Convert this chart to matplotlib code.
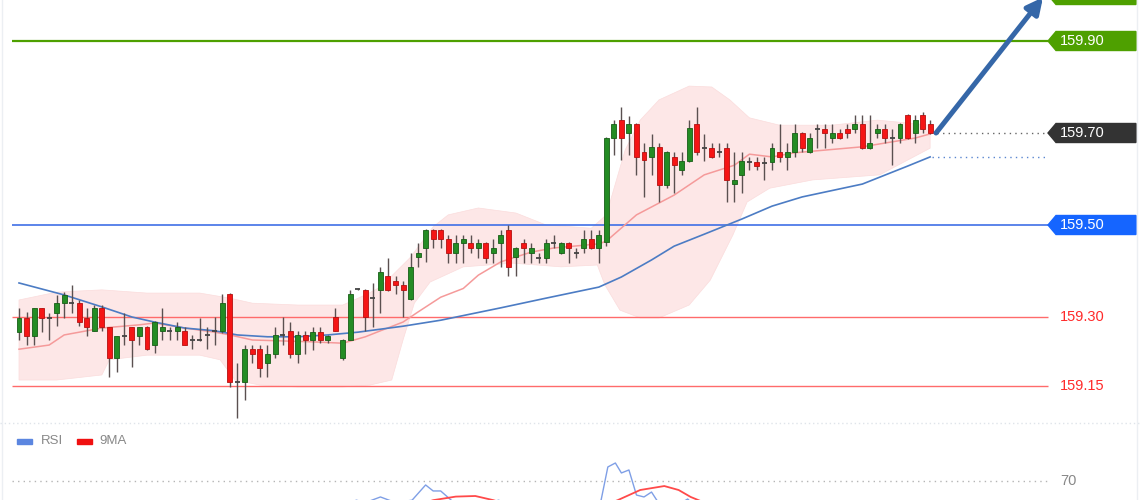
import numpy as np
import matplotlib
matplotlib.use('Agg')
import matplotlib.pyplot as plt
from matplotlib.patches import Polygon, Rectangle
from matplotlib.lines import Line2D

plt.rcParams['font.family'] = ['Liberation Sans', 'DejaVu Sans']

# candles (USDJPY-like price, one per bar)
opens = [
    159.267, 159.298, 159.259, 159.320, 159.298, 159.309, 159.330, 159.330, 159.330, 159.298,
    159.270, 159.320, 159.278, 159.211, 159.259, 159.278, 159.259, 159.278, 159.239, 159.270,
    159.270, 159.270, 159.270, 159.250, 159.250, 159.261, 159.270, 159.270, 159.350, 159.159,
    159.159, 159.230, 159.230, 159.200, 159.220, 159.261, 159.270, 159.220, 159.261, 159.250,
    159.267, 159.250, 159.300, 159.211, 159.250, 159.361, 159.359, 159.341, 159.359, 159.389,
    159.378, 159.370, 159.339, 159.430, 159.450, 159.489, 159.489, 159.470, 159.439, 159.461,
    159.461, 159.450, 159.461, 159.439, 159.461, 159.489, 159.430, 159.461, 159.439, 159.428,
    159.428, 159.461, 159.439, 159.461, 159.439, 159.450, 159.470, 159.450, 159.463, 159.689,
    159.728, 159.700, 159.720, 159.659, 159.648, 159.670, 159.587, 159.648, 159.620, 159.639,
    159.720, 159.667, 159.667, 159.659, 159.667, 159.589, 159.609, 159.637, 159.637, 159.635,
    159.637, 159.659, 159.648, 159.659, 159.700, 159.659, 159.709, 159.709, 159.689, 159.700,
    159.709, 159.709, 159.720, 159.667, 159.700, 159.709, 159.689, 159.689, 159.739, 159.700,
    159.739, 159.720]
highs = [
    159.320, 159.311, 159.320, 159.320, 159.309, 159.348, 159.354, 159.370, 159.337, 159.320,
    159.326, 159.326, 159.278, 159.259, 159.309, 159.278, 159.278, 159.280, 159.291, 159.320,
    159.278, 159.289, 159.278, 159.261, 159.298, 159.278, 159.300, 159.350, 159.352, 159.200,
    159.239, 159.239, 159.239, 159.239, 159.278, 159.300, 159.289, 159.270, 159.270, 159.278,
    159.278, 159.261, 159.320, 159.252, 159.359, 159.363, 159.361, 159.374, 159.409, 159.428,
    159.389, 159.378, 159.439, 159.461, 159.491, 159.491, 159.491, 159.478, 159.478, 159.478,
    159.478, 159.470, 159.463, 159.470, 159.489, 159.500, 159.452, 159.470, 159.461, 159.439,
    159.470, 159.478, 159.463, 159.463, 159.450, 159.489, 159.489, 159.489, 159.691, 159.728,
    159.757, 159.737, 159.722, 159.678, 159.698, 159.678, 159.661, 159.659, 159.659, 159.728,
    159.757, 159.698, 159.678, 159.678, 159.678, 159.659, 159.659, 159.648, 159.648, 159.648,
    159.678, 159.720, 159.678, 159.720, 159.702, 159.700, 159.720, 159.720, 159.720, 159.709,
    159.720, 159.739, 159.739, 159.739, 159.720, 159.720, 159.709, 159.722, 159.741, 159.739,
    159.746, 159.728]
lows = [
    159.250, 159.239, 159.239, 159.267, 159.250, 159.280, 159.298, 159.309, 159.280, 159.259,
    159.270, 159.270, 159.170, 159.180, 159.239, 159.191, 159.239, 159.228, 159.222, 159.250,
    159.250, 159.250, 159.239, 159.230, 159.248, 159.230, 159.239, 159.265, 159.148, 159.080,
    159.120, 159.200, 159.170, 159.170, 159.211, 159.239, 159.211, 159.200, 159.220, 159.228,
    159.243, 159.243, 159.270, 159.207, 159.250, 159.359, 159.270, 159.278, 159.309, 159.357,
    159.350, 159.300, 159.337, 159.409, 159.420, 159.450, 159.450, 159.417, 159.417, 159.417,
    159.439, 159.428, 159.417, 159.417, 159.409, 159.389, 159.389, 159.417, 159.417, 159.417,
    159.417, 159.450, 159.437, 159.417, 159.428, 159.439, 159.448, 159.417, 159.455, 159.652,
    159.641, 159.652, 159.609, 159.561, 159.609, 159.550, 159.580, 159.570, 159.609, 159.637,
    159.652, 159.639, 159.646, 159.648, 159.550, 159.550, 159.570, 159.620, 159.620, 159.598,
    159.620, 159.637, 159.620, 159.648, 159.659, 159.657, 159.667, 159.667, 159.678, 159.687,
    159.689, 159.700, 159.665, 159.665, 159.689, 159.678, 159.630, 159.678, 159.687, 159.678,
    159.700, 159.698]
closes = [
    159.298, 159.259, 159.320, 159.298, 159.298, 159.330, 159.348, 159.330, 159.289, 159.278,
    159.320, 159.278, 159.211, 159.259, 159.259, 159.250, 159.278, 159.230, 159.289, 159.278,
    159.270, 159.278, 159.239, 159.250, 159.250, 159.261, 159.270, 159.330, 159.159, 159.159,
    159.230, 159.220, 159.189, 159.220, 159.261, 159.261, 159.220, 159.261, 159.250, 159.267,
    159.250, 159.259, 159.270, 159.250, 159.350, 159.361, 159.300, 159.341, 159.398, 159.359,
    159.370, 159.359, 159.409, 159.439, 159.489, 159.470, 159.470, 159.439, 159.461, 159.470,
    159.450, 159.461, 159.428, 159.450, 159.478, 159.409, 159.450, 159.450, 159.450, 159.428,
    159.461, 159.461, 159.461, 159.450, 159.439, 159.470, 159.450, 159.478, 159.689, 159.720,
    159.689, 159.720, 159.648, 159.641, 159.670, 159.587, 159.659, 159.630, 159.639, 159.711,
    159.659, 159.667, 159.648, 159.659, 159.598, 159.598, 159.639, 159.637, 159.628, 159.635,
    159.667, 159.648, 159.659, 159.700, 159.667, 159.689, 159.709, 159.700, 159.700, 159.689,
    159.700, 159.720, 159.667, 159.678, 159.709, 159.689, 159.689, 159.720, 159.689, 159.728,
    159.709, 159.700]

# indicator lines, read at some bars
ma_fast_idx = [0, 4, 6, 8, 11, 16, 18, 22, 26, 28, 31, 35, 39, 43, 46, 48, 51, 53, 56, 59,
               61, 64, 68, 71, 77, 78, 82, 87, 91, 95, 97, 100, 103, 112, 119, 121]
ma_fast = [159.230, 159.239, 159.261, 159.267, 159.276, 159.283, 159.287, 159.276, 159.267, 159.261,
           159.250, 159.248, 159.246, 159.243, 159.257, 159.270, 159.289, 159.311, 159.343, 159.362,
           159.391, 159.420, 159.441, 159.450, 159.459, 159.465, 159.522, 159.565, 159.609, 159.630,
           159.654, 159.648, 159.657, 159.670, 159.689, 159.698]

ma_slow_idx = [0, 6, 11, 15, 18, 22, 26, 29, 33, 37, 41, 45, 51, 56, 64, 70, 77, 80, 84, 87,
               91, 96, 100, 104, 112, 118, 121]
ma_slow = [159.374, 159.348, 159.322, 159.300, 159.289, 159.276, 159.270, 159.261, 159.257, 159.257,
           159.261, 159.267, 159.280, 159.293, 159.320, 159.341, 159.365, 159.387, 159.424, 159.454,
           159.480, 159.513, 159.541, 159.561, 159.589, 159.628, 159.648]

band_up_idx = [0, 5, 11, 17, 24, 28, 31, 37, 43, 46, 48, 52, 55, 57, 61, 66, 70, 76, 78, 80.5,
               82.5, 85, 89, 92, 94.4, 97, 101, 108, 114, 121]
band_up = [159.337, 159.354, 159.359, 159.352, 159.352, 159.341, 159.330, 159.326, 159.326, 159.348,
           159.365, 159.430, 159.496, 159.522, 159.537, 159.526, 159.500, 159.493, 159.522, 159.663,
           159.728, 159.772, 159.802, 159.800, 159.772, 159.733, 159.717, 159.717, 159.728, 159.717]

band_lo_idx = [0, 5, 11, 12, 17, 24, 26.7, 28.7, 32, 37, 43, 46.6, 49.5, 51, 52.5, 54.6, 59, 65.6,
               72, 76.8, 77.8, 79.8, 82.5, 85, 89, 91.8, 94.8, 96.7, 99.7, 105.4, 114.3, 121]
band_lo = [159.163, 159.163, 159.174, 159.207, 159.217, 159.217, 159.207, 159.163, 159.152, 159.148,
           159.148, 159.152, 159.163, 159.250, 159.330, 159.376, 159.409, 159.417, 159.409, 159.413,
           159.370, 159.315, 159.298, 159.298, 159.326, 159.380, 159.478, 159.550, 159.580, 159.598,
           159.609, 159.667]

# levels
levels_red = [159.30, 159.15]
level_green = 159.90
level_blue = 159.50
level_now = 159.70
level_target = 160.00

# RSI panel (only its top is in view)
rsi_idx = [30, 42.6, 44.8, 46, 48, 50, 52.2, 54, 55, 56, 57.4, 59, 63.7, 66.5, 76, 77.3, 78.2,
           79.2, 80, 81, 82, 83, 84, 84.7, 86.5, 88.8, 90.4, 98, 121]
rsi = [45, 48, 54, 52, 56.7, 52, 54, 66.7, 61.7, 61.7, 54, 46, 54, 46, 48, 54, 81.7,
       85, 76.7, 79.2, 58.3, 56.7, 60.8, 54, 46, 55, 45, 50, 52]
rsi_ma_idx = [45, 53, 55, 58, 60.6, 63, 65, 77, 79.5, 82.5, 85.7, 87.6, 89.2, 91.8]
rsi_ma = [46, 50, 54, 57, 57.5, 54, 50, 48, 54, 62.5, 65.8, 62.5, 56.7, 50]

STEP = 7.53          # px per bar
W, H = 1140, 500


def ix(px):
    return (px - 19) / STEP


fig = plt.figure(figsize=(W / 100, H / 100), dpi=100)
fig.patch.set_facecolor('white')

ax = fig.add_axes([0, 78 / H, 1, 422 / H])
ax.set_xlim(ix(0), ix(W))
ax.set_ylim(159.90 - 381 / 460, 159.90 + 41 / 460)
ax.axis('off')

# bollinger fill
poly = list(zip(band_up_idx, band_up)) + list(zip(band_lo_idx, band_lo))[::-1]
ax.add_patch(Polygon(poly, closed=True, facecolor='#fde7e7', edgecolor='#fbdcdc',
                     linewidth=0.5, zorder=1))

# level lines
x_lo, x_hi = ix(12), ix(1048)
ax.hlines(level_green, x_lo, x_hi, color='#4ea000', lw=1.6, zorder=2)
ax.hlines(level_blue, x_lo, x_hi, color='#3f6fe6', lw=1.2, zorder=2)
for lv in levels_red:
    ax.hlines(lv, x_lo, x_hi, color='#ff6b6b', lw=1.0, zorder=2)

# moving averages
ax.plot(ma_fast_idx, ma_fast, color='#f59a9a', lw=1.1, zorder=3)
ax.plot(ma_slow_idx, ma_slow, color='#4c7cc4', lw=1.2, zorder=3)

# candles
n = len(opens)
idx = np.arange(n)
o = np.array(opens); c = np.array(closes)
ax.vlines(idx, lows, highs, color='#5a5050', lw=1.0, zorder=4)
bw = 0.66
for i in range(n):
    if c[i] > o[i]:
        fc, ec = '#248c24', '#175e17'
    elif c[i] < o[i]:
        fc, ec = '#f51515', '#b51010'
    else:
        ax.hlines(o[i], i - bw / 2, i + bw / 2, color='#444444', lw=1.3, zorder=5)
        continue
    ax.add_patch(Rectangle((i - bw / 2, min(o[i], c[i])), bw, abs(c[i] - o[i]),
                           facecolor=fc, edgecolor=ec, linewidth=0.6, zorder=5))

# dotted guides to the tags
ax.hlines(level_now, ix(937), ix(1048), color='#666666', lw=1.0, linestyles=(0, (1, 3)), zorder=2)
ax.hlines(ma_slow[-1], ix(932), ix(1048), color='#5a86d0', lw=1.0, linestyles=(0, (1, 3)), zorder=2)

# arrow
ax.annotate('', xy=(ix(1043), 159.995), xytext=(ix(936), closes[-1]),
            arrowprops=dict(arrowstyle='-|>', color='#3567a8', lw=3.6, mutation_scale=24,
                            shrinkA=0, shrinkB=0),
            annotation_clip=False, zorder=6)

# right tags
tr = ax.get_yaxis_transform()
hh = 9.5 / 460


def tag(price, text, color):
    pts = [(1048 / W, price), (1056 / W, price + hh), (1136 / W, price + hh),
           (1136 / W, price - hh), (1056 / W, price - hh)]
    ax.add_patch(Polygon(pts, closed=True, transform=tr, facecolor=color,
                         edgecolor=color, clip_on=False, zorder=7))
    if text:
        ax.text(1060 / W, price, text, transform=tr, color='white', fontsize=10.5,
                va='center', ha='left', zorder=8, clip_on=False)


# the target tag sits above the frame, only its lower edge shows
tag(level_target, None, '#4ea000')
tag(level_green, f'{level_green:.2f}', '#4ea000')
tag(level_now, f'{level_now:.2f}', '#333333')
tag(level_blue, f'{level_blue:.2f}', '#1565ff')
for lv in levels_red:
    ax.text(1060 / W, lv, f'{lv:.2f}', transform=tr, color='#ff2a2a', fontsize=10.5,
            va='center', ha='left')

# RSI panel
ax2 = fig.add_axes([0, -65 / H, 1, 140 / H])
ax2.set_xlim(ix(0), ix(W))
ax2.set_ylim(0, 140 / 1.2)
ax2.axis('off')
ax2.hlines(70, ix(12), ix(1048), color='#b5b5b5', lw=1.0, linestyles=(0, (1, 3)))
ax2.text(ix(1060), 70, '70', color='#888888', fontsize=10.5, va='center', ha='left')
ax2.plot(rsi_idx, rsi, color='#7f9fe6', lw=1.0)
ax2.plot(rsi_ma_idx, rsi_ma, color='#ff4a4a', lw=1.3)

# separator, borders, legend
fig.add_artist(Line2D([0, 1], [1 - 423 / H] * 2, color='#dfe4ea', lw=1.0,
                      linestyle=(0, (1, 2))))
fig.add_artist(Line2D([2 / W] * 2, [0, 1], color='#eceff3', lw=1.0))
fig.add_artist(Line2D([1137 / W] * 2, [0, 1], color='#eceff3', lw=1.0))
fig.add_artist(Rectangle((17 / W, 1 - 444 / H), 15 / W, 5 / H, color='#5b86e0'))
fig.text(41 / W, 1 - 441 / H, 'RSI', color='#888888', fontsize=9.5, va='center')
fig.add_artist(Rectangle((77 / W, 1 - 444 / H), 15 / W, 5 / H, color='#f01010'))
fig.text(99 / W, 1 - 441 / H, '9MA', color='#888888', fontsize=9.5, va='center')

fig.savefig('out.png', dpi=100, facecolor='white')
